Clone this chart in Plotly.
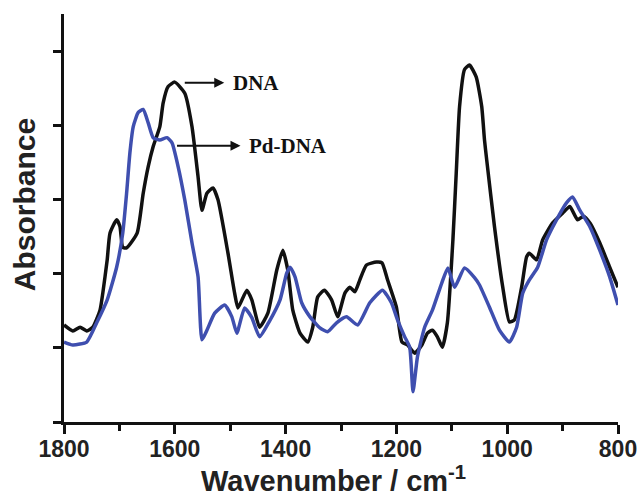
import plotly.graph_objects as go

# DNA (black) spectrum
dna_wn = [1800, 1784, 1771, 1759, 1748, 1735, 1730, 1722, 1717, 1705, 1699, 1694, 1687, 1668,
          1657, 1648, 1639, 1627, 1621, 1612, 1600, 1582, 1569, 1558, 1551, 1542, 1531, 1522,
          1504, 1492, 1486, 1470, 1461, 1447, 1432, 1416, 1405, 1396, 1387, 1374, 1360, 1351,
          1342, 1330, 1317, 1306, 1293, 1284, 1275, 1266, 1254, 1236, 1226, 1216, 1200, 1190,
          1180, 1167, 1154, 1144, 1135, 1126, 1117, 1108, 1098, 1092, 1086, 1077, 1068, 1056,
          1046, 1041, 1037, 1023, 1008, 996, 987, 974, 965, 960, 947, 936, 918, 900, 887, 873,
          862, 850, 833, 815, 800]
dna_abs = [1.31, 1.23, 1.28, 1.23, 1.28, 1.51, 1.74, 2.19, 2.55, 2.73, 2.64, 2.36, 2.35, 2.55,
           3.09, 3.45, 3.72, 3.99, 4.31, 4.53, 4.59, 4.44, 3.99, 3.31, 2.86, 3.09, 3.16, 3.00,
           2.28, 1.74, 1.54, 1.78, 1.65, 1.28, 1.47, 2.05, 2.32, 2.05, 1.51, 1.20, 1.08, 1.28,
           1.69, 1.78, 1.65, 1.42, 1.74, 1.82, 1.76, 1.92, 2.12, 2.16, 2.15, 1.92, 1.55, 1.08,
           1.04, 0.93, 1.04, 1.20, 1.24, 1.15, 1.01, 1.34, 2.46, 3.36, 4.26, 4.76, 4.82, 4.66,
           4.26, 3.81, 3.54, 2.64, 1.82, 1.35, 1.38, 1.82, 2.23, 2.28, 2.19, 2.46, 2.69, 2.82, 2.91, 2.73,
           2.78, 2.68, 2.42, 2.09, 1.82]

# Pd-DNA (blue) spectrum
pd_wn = [1800, 1784, 1759, 1741, 1722, 1705, 1694, 1687, 1681, 1675, 1666, 1657, 1648, 1639,
         1627, 1614, 1605, 1594, 1582, 1569, 1558, 1551, 1542, 1528, 1510, 1497, 1488, 1474,
         1461, 1447, 1430, 1410, 1398, 1392, 1383, 1371, 1356, 1338, 1324, 1308, 1290, 1270,
         1248, 1225, 1209, 1198, 1185, 1176, 1170, 1162, 1149, 1135, 1118, 1107, 1095, 1077,
         1059, 1050, 1032, 1014, 996, 983, 972, 960, 945, 929, 911, 893, 882, 869, 851, 833,
         815, 800]
pd_abs = [1.08, 1.04, 1.08, 1.34, 1.65, 2.09, 2.55, 3.09, 3.64, 3.99, 4.18, 4.22, 4.04, 3.84,
          3.81, 3.84, 3.77, 3.45, 3.00, 2.42, 1.96, 1.11, 1.24, 1.47, 1.58, 1.42, 1.20, 1.54,
          1.41, 1.15, 1.35, 1.65, 2.01, 2.09, 1.96, 1.61, 1.42, 1.27, 1.22, 1.34, 1.42, 1.31,
          1.61, 1.78, 1.61, 1.38, 1.15, 1.01, 0.41, 0.88, 1.28, 1.51, 1.88, 2.08, 1.82, 2.08,
          1.95, 1.85, 1.55, 1.24, 1.08, 1.28, 1.74, 1.92, 2.09, 2.46, 2.73, 2.96, 3.04, 2.86,
          2.64, 2.32, 1.96, 1.58]

x_ticks = [1800, 1600, 1400, 1200, 1000, 800]
x_tick_labels = ["1800", "1600", "1400", "1200", "1000", "800"]

BLUE = "#3F4FAF"
BOLD_SANS = "Liberation Sans, Arial, sans-serif"
BOLD_SERIF = "Liberation Serif, Times New Roman, serif"

fig = go.Figure()
fig.add_trace(go.Scatter(x=dna_wn, y=dna_abs, mode="lines",
                         line=dict(color="#111111", width=3.5, shape="spline", smoothing=0.5),
                         name="DNA", showlegend=False))
fig.add_trace(go.Scatter(x=pd_wn, y=pd_abs, mode="lines",
                         line=dict(color=BLUE, width=3.5, shape="spline", smoothing=0.5),
                         name="Pd-DNA", showlegend=False))

fig.update_layout(
    width=639, height=496,
    margin=dict(l=64, r=21, t=14, b=74),
    paper_bgcolor="white", plot_bgcolor="white",
    xaxis=dict(range=[1800, 800], tickvals=x_ticks, ticktext=x_tick_labels, automargin=False,
               showgrid=False, zeroline=False, showline=True, linecolor="#111111",
               linewidth=2.5, ticks="outside", ticklen=9, tickwidth=2.5, tickcolor="#111111",
               ticklabelstandoff=-4,
               tickfont=dict(family=BOLD_SANS, size=23, color="#222222", weight="bold"),
               minor=dict(dtick=100, ticks="outside", ticklen=6, tickwidth=2.5,
                          tickcolor="#111111", showgrid=False)),
    yaxis=dict(range=[0, 5.51], dtick=1, tick0=0, showticklabels=False, automargin=False,
               showgrid=False, zeroline=False, showline=True, linecolor="#111111",
               linewidth=2.5, ticks="outside", ticklen=8, tickwidth=2.5, tickcolor="#111111"),
)

# axis titles
fig.add_annotation(xref="paper", yref="paper", x=0.487, y=-0.14, xanchor="center",
                   yanchor="middle", showarrow=False,
                   text="Wavenumber / cm<sup>-1</sup>",
                   font=dict(family=BOLD_SANS, size=29, color="#222222", weight="bold"))
fig.add_annotation(xref="paper", yref="paper", x=-0.07, y=0.532, xanchor="center",
                   yanchor="middle", showarrow=False, textangle=-90, text="Absorbance",
                   font=dict(family=BOLD_SANS, size=30, color="#222222", weight="bold"))

# labels with arrows pointing from the curves towards the text
fig.add_annotation(x=1582, y=4.58, ax=71, ay=0, axref="pixel", ayref="pixel",
                   text="DNA", showarrow=True, arrowside="start", startarrowhead=2,
                   startarrowsize=1, arrowwidth=2, arrowcolor="#111111", startstandoff=7,
                   font=dict(family=BOLD_SERIF, size=21, color="#111111", weight="bold"))
fig.add_annotation(x=1596, y=3.73, ax=111, ay=0, axref="pixel", ayref="pixel",
                   text="Pd-DNA", showarrow=True, arrowside="start", startarrowhead=2,
                   startarrowsize=1, arrowwidth=2, arrowcolor="#111111", startstandoff=7,
                   font=dict(family=BOLD_SERIF, size=21, color="#111111", weight="bold"))

fig.write_html("out.html")
